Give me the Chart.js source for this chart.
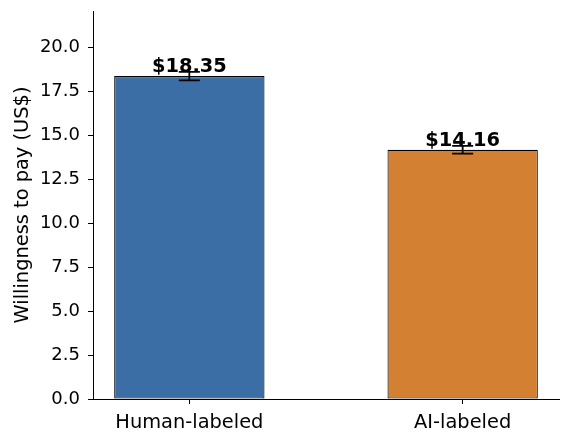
<!DOCTYPE html>
<html>
<head>
<meta charset="utf-8">
<script src="https://cdn.jsdelivr.net/npm/chart.js@4.4.0/dist/chart.umd.min.js"></script>
<style>
  html, body { margin: 0; padding: 0; background: #fff; }
  #wrap { width: 570px; height: 442px; }
</style>
</head>
<body>
<div id="wrap"><canvas id="myChart" width="570" height="442"></canvas></div>
<script>
// data
const categories = ['Human-labeled', 'AI-labeled'];
const values = [18.35, 14.16];
const errors = [0.24, 0.22];
const valueLabels = ['$18.35', '$14.16'];
const barColors = ['#3b6ea5', '#d38032'];
const yTicks = [0, 2.5, 5, 7.5, 10, 12.5, 15, 17.5, 20];

const FONT = 'DejaVu Sans';

// error bars + value labels on top of the bars
const barExtras = {
    id: 'barExtras',
    afterDatasetsDraw(chart) {
        const ctx = chart.ctx;
        const xs = chart.scales.x;
        const ys = chart.scales.y;
        ctx.save();
        values.forEach(function (v, i) {
            const px = xs.getPixelForValue(i);
            const top = ys.getPixelForValue(v + errors[i]);
            const bot = ys.getPixelForValue(v - errors[i]);
            ctx.strokeStyle = '#000';
            ctx.lineWidth = 1.8;
            ctx.beginPath();
            ctx.moveTo(px, top); ctx.lineTo(px, bot);
            ctx.moveTo(px - 10.5, top); ctx.lineTo(px + 10.5, top);
            ctx.moveTo(px - 10.5, bot); ctx.lineTo(px + 10.5, bot);
            ctx.stroke();
        });
        values.forEach(function (v, i) {
            const px = xs.getPixelForValue(i);
            const py = ys.getPixelForValue(v);
            ctx.fillStyle = '#000';
            ctx.font = 'bold 19.4px "' + FONT + '"';
            ctx.textAlign = 'center';
            ctx.textBaseline = 'alphabetic';
            ctx.fillText(valueLabels[i], px, py - 4);
        });
        ctx.restore();
    }
};

function render_chart() {
    const ctx = document.getElementById('myChart');
    const myChart = new Chart(ctx, {
        type: 'bar',
        data: {
            datasets: [{
                data: values.map(function (v, i) { return {x: i, y: v}; }),
                backgroundColor: barColors,
                borderColor: '#000',
                borderWidth: 1.1,
                borderSkipped: false,
                barPercentage: 0.55,
                categoryPercentage: 1.0
            }]
        },
        options: {
            responsive: false,
            animation: false,
            layout: { padding: { top: 11, right: 11, left: 0, bottom: 0 } },
            plugins: {
                legend: { display: false },
                tooltip: { enabled: false }
            },
            scales: {
                x: {
                    type: 'linear',
                    offset: false,
                    min: -0.3525,
                    max: 1.3525,
                    afterBuildTicks: function (axis) {
                        axis.ticks = categories.map(function (c, i) { return {value: i}; });
                    },
                    afterFit: function (axis) {
                        axis.height = 43;
                        axis.paddingLeft = 0;
                        axis.paddingRight = 0;
                    },
                    ticks: {
                        color: '#000',
                        font: { family: FONT, size: 19.4 },
                        padding: 7,
                        maxRotation: 0,
                        autoSkip: false,
                        callback: function (val) { return categories[val]; }
                    },
                    grid: { offset: false, drawOnChartArea: false, drawTicks: true, tickLength: 5, color: '#000' },
                    border: { display: true, color: '#000', width: 1 }
                },
                y: {
                    min: 0,
                    max: 22.05,
                    afterBuildTicks: function (axis) {
                        axis.ticks = yTicks.map(function (t) { return {value: t}; });
                    },
                    afterFit: function (axis) {
                        axis.width = 93;
                        axis.paddingTop = 0;
                        axis.paddingBottom = 0;
                    },
                    ticks: {
                        color: '#000',
                        font: { family: FONT, size: 18 },
                        padding: 8,
                        callback: function (val) { return val.toFixed(1); }
                    },
                    title: {
                        display: true,
                        text: 'Willingness to pay (US$)',
                        color: '#000',
                        font: { family: FONT, size: 19.4 },
                        padding: { top: 11, bottom: 0 }
                    },
                    grid: { drawOnChartArea: false, drawTicks: true, tickLength: 5, color: '#000' },
                    border: { display: true, color: '#000', width: 1 }
                }
            }
        },
        plugins: [barExtras]
    });
}

render_chart();
</script>
</body>
</html>
